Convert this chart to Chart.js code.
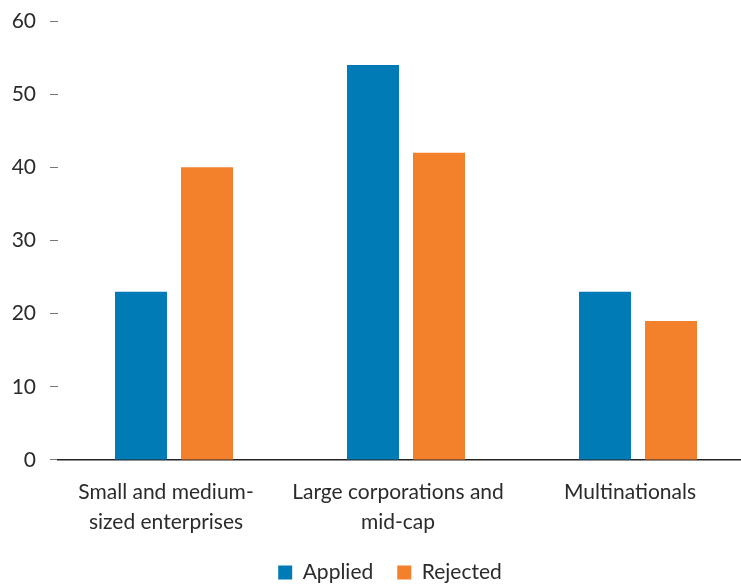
<!DOCTYPE html>
<html>
<head>
<meta charset="utf-8">
<script src="https://cdn.jsdelivr.net/npm/chart.js@4"></script>
<style>
  html, body { margin: 0; padding: 0; background: #fff; overflow: hidden; }
  #wrap { position: absolute; left: 0; top: 0; width: 754px; height: 584px; }
</style>
</head>
<body>
<div id="wrap"><canvas id="chart"></canvas></div>
<script>
// Chart data
const categories = [
    ['Small and medium-', 'sized enterprises'],
    ['Large corporations and', 'mid-cap'],
    ['Multinationals']
];
const applied = [23, 54, 23];
const rejected = [40, 42, 19];
const yMin = 0;
const yMax = 60;
const yStep = 10;

const textColor = '#2b2b2b';
const fontFamily = 'Lato, "Open Sans", sans-serif';

// nudge the legend a little right and up, like the original
const legendShift = {
    id: 'legendShift',
    afterUpdate(chart) {
        const lg = chart.legend;
        if (lg) {
            lg.left += 13;
            lg.right += 13;
            lg.top -= 16;
            lg.bottom -= 16;
        }
    }
};

const ctx = document.getElementById('chart').getContext('2d');
const chart = new Chart(ctx, {
    type: 'bar',
    data: {
        labels: categories,
        datasets: [{
            label: 'Applied',
            data: applied,
            backgroundColor: '#007bb6',
            borderWidth: 0
        }, {
            label: 'Rejected',
            data: rejected,
            backgroundColor: '#f3812c',
            borderWidth: 0
        }]
    },
    plugins: [legendShift],
    options: {
        responsive: true,
        maintainAspectRatio: false,
        animation: false,
        datasets: {
            bar: {
                categoryPercentage: 0.569,
                barPercentage: 0.788
            }
        },
        layout: {
            padding: { left: 0, right: 0, top: 21, bottom: -25 }
        },
        plugins: {
            tooltip: { enabled: false },
            legend: {
                position: 'bottom',
                labels: {
                    boxWidth: 14,
                    boxHeight: 14,
                    padding: 24,
                    color: textColor,
                    font: { family: fontFamily, size: 21 }
                }
            }
        },
        scales: {
            x: {
                grid: { display: false, drawTicks: false },
                border: { display: true, color: '#222', width: 1.5 },
                ticks: {
                    color: textColor,
                    autoSkip: false,
                    maxRotation: 0,
                    padding: 17,
                    labelOffset: -8,
                    font: { family: fontFamily, size: 21, lineHeight: 1.43 }
                }
            },
            y: {
                min: yMin,
                max: yMax,
                afterFit: function(scale) {
                    scale.width = 58;
                    scale.paddingTop = 0;
                    scale.paddingBottom = 0;
                },
                grid: {
                    drawOnChartArea: false,
                    drawTicks: true,
                    tickLength: 8,
                    color: '#777'
                },
                border: { display: false },
                ticks: {
                    stepSize: yStep,
                    color: textColor,
                    padding: 14,
                    font: { family: fontFamily, size: 21 }
                }
            }
        }
    }
});
</script>
</body>
</html>
